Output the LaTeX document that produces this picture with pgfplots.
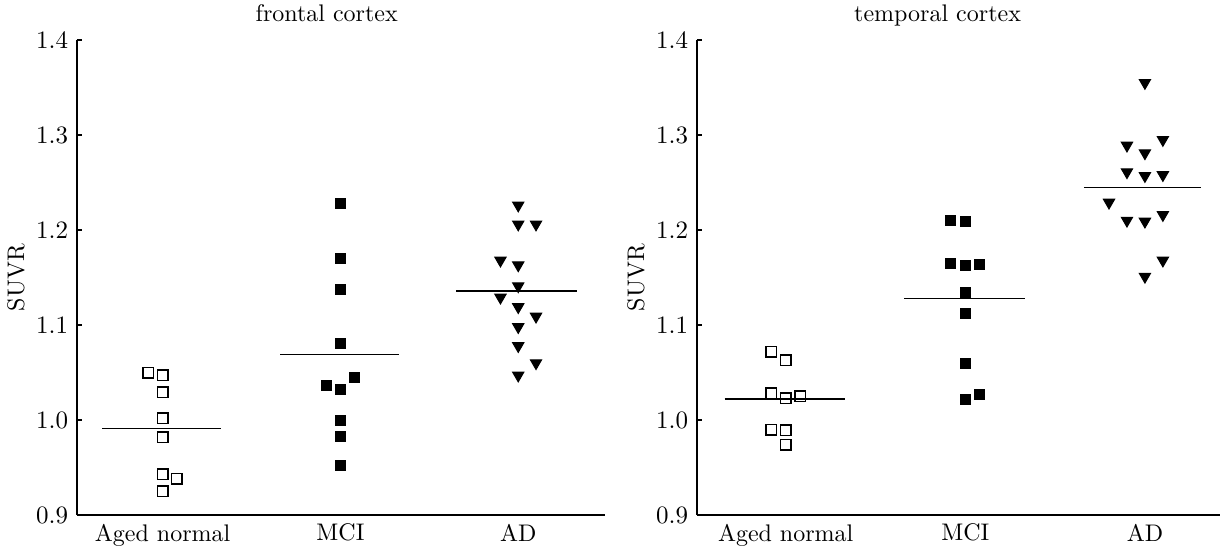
\documentclass[border=0pt]{standalone}
\usepackage{pgfplots}
\pgfplotsset{compat=1.18}
\pgfplotsset{
  suvr/.style={
    scale only axis,
    height=190pt,
    ymin=0.9, ymax=1.4,
    ytick={0.9,1.0,1.1,1.2,1.3,1.4},
    yticklabel style={/pgf/number format/.cd, fixed, fixed zerofill, precision=1},
    xtick={0,1,2},
    xticklabels={Aged normal, MCI, AD},
    axis x line=bottom, axis y line=left,
    axis line style={-, line width=0.6pt},
    tick align=inside,
    major tick length=2pt,
    y tick style={line width=0.6pt, black},
    x tick style={draw=none},
    ylabel={SUVR},
    ylabel style={at={(axis description cs:0,0.5)}, anchor=center, yshift=24.4pt},
    clip=false,
    font=\fontsize{9.6}{11.5}\selectfont,
  },
  opensq/.style={only marks, mark=square, mark size=2.1pt, mark options={line width=0.6pt, black}},
  fillsq/.style={only marks, mark=square*, mark size=2.0pt, mark options={black, fill=black}},
  tri/.style={only marks, mark=triangle*, mark size=2.6pt, mark options={rotate=180, black, fill=black}},
  meanl/.style={no marks, black, line width=0.6pt},
}
\begin{document}
\begin{tikzpicture}
\useasboundingbox (-30.8pt,-14.4pt) rectangle (457.6pt,206pt);
\begin{axis}[suvr, width=211.2pt, xmin=-0.482, xmax=2.488,
  at={(0pt,0pt)}, anchor=south west,
  title={frontal cortex}, title style={at={(0.473,1)}, anchor=base, yshift=1.6pt}]
\addplot[opensq] coordinates {(-0.08,1.050) (0,1.047) (0,1.029) (0,1.002) (0,0.982) (0,0.943) (0.08,0.938) (0,0.925)};
\addplot[fillsq] coordinates {(1,1.228) (1,1.170) (1,1.137) (1,1.081) (1.08,1.045) (0.92,1.036) (1,1.032) (1,1.000) (1,0.983) (1,0.952)};
\addplot[tri] coordinates {(2,1.226) (2,1.206) (2.1,1.206) (1.9,1.168) (2,1.163) (2,1.141) (1.9,1.129) (2,1.119) (2.1,1.109) (2,1.098) (2,1.078) (2.1,1.060) (2,1.047)};
\addplot[meanl] coordinates {(-0.34,0.991) (0.33,0.991)};
\addplot[meanl] coordinates {(0.66,1.069) (1.33,1.069)};
\addplot[meanl] coordinates {(1.65,1.136) (2.33,1.136)};
\end{axis}
\begin{axis}[suvr, width=209.2pt, xmin=-0.494, xmax=2.418,
  at={(248pt,0pt)}, anchor=south west,
  title={temporal cortex}, title style={at={(0.46,1)}, anchor=base, yshift=1.6pt}]
\addplot[opensq] coordinates {(-0.08,1.072) (0,1.063) (-0.08,1.028) (0,1.023) (0.08,1.025) (-0.08,0.990) (0,0.989) (0,0.974)};
\addplot[fillsq] coordinates {(0.92,1.210) (1,1.209) (0.92,1.165) (1,1.163) (1.08,1.164) (1,1.134) (1,1.112) (1,1.059) (1,1.022) (1.08,1.027)};
\addplot[tri] coordinates {(2,1.355) (1.9,1.289) (2,1.281) (2.1,1.295) (1.9,1.261) (2,1.257) (2.1,1.258) (1.8,1.229) (1.9,1.210) (2,1.209) (2.1,1.216) (2.1,1.168) (2,1.151)};
\addplot[meanl] coordinates {(-0.34,1.022) (0.33,1.022)};
\addplot[meanl] coordinates {(0.66,1.128) (1.33,1.128)};
\addplot[meanl] coordinates {(1.66,1.245) (2.31,1.245)};
\end{axis}
\end{tikzpicture}
\end{document}
